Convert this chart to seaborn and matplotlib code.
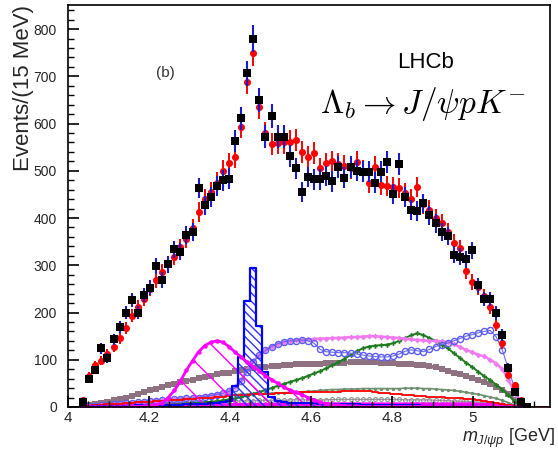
import numpy as np
import pandas as pd
import matplotlib
matplotlib.use("Agg")
import matplotlib.pyplot as plt
from matplotlib.ticker import MultipleLocator, FixedLocator, FixedFormatter
import seaborn as sns

# ---------------- data ----------------
bin_width = 0.015
first_center = 4.0375
n_bins = 74
mass = [round(first_center + bin_width * i, 4) for i in range(n_bins)]

data = [10, 59, 78, 124, 104, 143, 170, 200, 226, 200,
        237, 252, 299, 269, 302, 334, 329, 364, 371, 463,
        427, 444, 468, 480, 483, 563, 611, 706, 780, 650,
        572, 616, 572, 572, 531, 505, 455, 487, 482, 482,
        489, 478, 508, 485, 508, 500, 498, 498, 475, 498,
        519, 451, 514, 444, 417, 415, 431, 406, 389, 371,
        362, 322, 318, 313, 332, 258, 229, 229, 199, 152,
        83, 32, 11, 0]

fit = [14, 66, 88, 98, 112, 128, 146, 168, 193, 212,
       228, 250, 268, 285, 302, 318, 338, 356, 378, 413,
       440, 455, 475, 500, 516, 530, 593, 688, 749, 635,
       580, 557, 559, 560, 562, 565, 540, 529, 538, 505,
       516, 520, 515, 510, 505, 519, 500, 474, 508, 470,
       468, 465, 463, 453, 440, 466, 430, 417, 400, 389,
       371, 347, 336, 288, 265, 254, 235, 212, 174, 135,
       68, 47, 15, 2]

pc4450 = [1, 1, 2, 2, 2, 3, 3, 3, 3, 4,
          4, 4, 4, 5, 5, 5, 5, 6, 6, 7,
          7, 8, 9, 10, 12, 44, 106, 224, 294, 171,
          75, 22, 12, 10, 9, 9, 8, 8, 8, 7,
          7, 7, 6, 6, 6, 6, 5, 5, 5, 5,
          5, 4, 4, 4, 4, 4, 3, 3, 3, 3,
          3, 3, 2, 2, 2, 2, 2, 1, 1, 1,
          1, 1, 0, 0]

pc4380 = [0, 0, 0, 0, 0, 0, 0, 0, 1, 1,
          2, 3, 5, 9, 20, 35, 55, 78, 98, 117,
          130, 137, 140, 137, 128, 116, 106, 95, 85, 76,
          66, 58, 50, 42, 36, 31, 26, 20, 15, 10,
          7, 5, 4, 3, 2, 2, 1, 1, 1, 1,
          1, 1, 1, 1, 1, 1, 1, 1, 1, 1,
          1, 1, 1, 1, 1, 1, 1, 1, 0, 0,
          0, 0, 0, 0]

magenta_low = [2, 2, 2, 3, 3, 3, 3, 3, 3, 3,
               3, 3, 3, 3, 3, 3, 3, 3, 4, 4,
               4, 4, 4, 4, 4, 5, 5, 5, 5, 5,
               5, 5, 6, 6, 6, 6, 6, 6, 6, 6,
               6, 6, 6, 6, 6, 6, 6, 6, 6, 6,
               6, 6, 6, 6, 6, 6, 6, 6, 6, 6,
               6, 6, 6, 6, 6, 5, 5, 5, 4, 3,
               2, 1, 0, 0]

mauve = [3, 5, 7, 9, 11, 14, 17, 20, 23, 27,
         31, 35, 39, 43, 46, 49, 52, 55, 58, 61,
         64, 66, 69, 71, 73, 76, 78, 80, 82, 84,
         85, 86, 87, 88, 89, 90, 90, 91, 92, 92,
         93, 93, 94, 94, 95, 95, 95, 95, 95, 94,
         94, 93, 92, 91, 90, 89, 88, 86, 84, 81,
         77, 73, 69, 65, 61, 57, 53, 49, 43, 37,
         28, 15, 4, 0]

blue_circles = [1, 2, 3, 4, 5, 6, 7, 8, 9, 10,
                11, 12, 13, 14, 15, 16, 17, 18, 19, 20,
                22, 24, 26, 29, 33, 40, 55, 75, 95, 110,
                120, 128, 134, 138, 140, 140, 142, 140, 135, 122,
                117, 116, 115, 115, 114, 112, 110, 108, 107, 106,
                106, 108, 112, 118, 121, 119, 117, 122, 128, 132,
                135, 140, 145, 150, 153, 157, 160, 162, 148, 120,
                80, 40, 8, 0]

violet = [1, 2, 3, 4, 5, 6, 7, 8, 9, 10,
          11, 12, 13, 14, 15, 16, 17, 18, 19, 21,
          23, 25, 27, 30, 34, 42, 58, 78, 98, 110,
          120, 128, 133, 137, 140, 141, 142, 143, 144, 145,
          145, 146, 146, 147, 148, 148, 149, 150, 150, 149,
          148, 147, 146, 145, 143, 142, 141, 140, 140, 139,
          137, 133, 127, 121, 116, 111, 107, 100, 92, 80,
          58, 30, 8, 0]

green = [1, 1, 2, 2, 2, 3, 3, 3, 4, 4,
         4, 5, 5, 5, 6, 6, 7, 7, 8, 9,
         10, 11, 12, 14, 16, 18, 21, 24, 28, 32,
         36, 40, 45, 49, 53, 57, 61, 66, 71, 76,
         82, 88, 95, 102, 110, 118, 124, 128, 130, 131,
         132, 135, 140, 146, 152, 156, 152, 146, 140, 132,
         124, 114, 104, 94, 85, 75, 65, 57, 47, 37,
         25, 12, 3, 0]

greygreen = [1, 2, 3, 4, 5, 6, 7, 8, 9, 10,
             11, 12, 14, 15, 16, 17, 18, 19, 20, 21,
             22, 23, 24, 25, 26, 26, 27, 27, 28, 28,
             29, 29, 30, 30, 31, 31, 32, 33, 34, 35,
             36, 37, 37, 38, 38, 38, 39, 39, 39, 39,
             39, 39, 39, 40, 40, 40, 39, 39, 38, 37,
             36, 35, 33, 31, 29, 27, 24, 21, 18, 14,
             9, 4, 1, 0]

grey = [1, 2, 3, 3, 4, 4, 5, 5, 6, 6,
        7, 7, 8, 8, 9, 9, 10, 10, 10, 11,
        11, 11, 12, 12, 12, 13, 13, 13, 13, 14,
        14, 14, 14, 14, 15, 15, 15, 15, 15, 15,
        15, 16, 16, 16, 16, 16, 16, 16, 16, 16,
        16, 16, 16, 15, 15, 15, 15, 15, 14, 14,
        13, 13, 12, 12, 11, 10, 9, 8, 7, 6,
        4, 2, 1, 0]

red_hist = [2, 3, 4, 5, 6, 6, 7, 8, 9, 10,
            10, 11, 12, 13, 14, 15, 15, 16, 17, 18,
            19, 20, 21, 22, 24, 25, 26, 26, 27, 27,
            28, 28, 29, 29, 30, 30, 31, 31, 31, 31,
            31, 32, 32, 33, 33, 34, 34, 33, 32, 30,
            29, 28, 27, 26, 25, 24, 23, 22, 22, 21,
            20, 19, 18, 17, 16, 14, 12, 10, 8, 6,
            4, 2, 1, 0]

x_ticks = [4.0, 4.2, 4.4, 4.6, 4.8, 5.0]
x_tick_labels = ["4", "4.2", "4.4", "4.6", "4.8", "5"]
y_ticks = [0, 100, 200, 300, 400, 500, 600, 700, 800]

df = pd.DataFrame({"m": mass, "data": data, "fit": fit,
                   "pc4450": pc4450, "red_hist": red_hist})

# ---------------- style ----------------
sns.set_theme(style="ticks")
plt.rcParams["font.family"] = ["Liberation Sans", "DejaVu Sans"]
plt.rcParams["mathtext.fontset"] = "custom"
plt.rcParams["mathtext.it"] = "Liberation Sans:italic"
plt.rcParams["mathtext.rm"] = "Liberation Sans"
plt.rcParams["hatch.linewidth"] = 1.0

fig = plt.figure(figsize=(5.58, 4.59), dpi=100)
ax = fig.add_axes([68 / 558, 52 / 459, 482 / 558, 402 / 459])

edges = [round(4.0 + bin_width * k, 4) for k in range(80)]
data_edges = edges[2:2 + n_bins + 1]

# broad components
sns.lineplot(x=mass, y=greygreen, ax=ax, color="#6f8f6f", lw=1.2, marker="o",
             markersize=2.4, mec="#6f8f6f", markeredgewidth=0, zorder=2)
sns.lineplot(x=mass, y=grey, ax=ax, color="#9a9a9a", lw=1.0, marker="o",
             markersize=2.8, mfc="none", mec="#8a8a8a", markeredgewidth=0.7, zorder=2)
sns.lineplot(x=mass, y=mauve, ax=ax, color="#8f7282", lw=2.6, marker="s",
             markersize=3.8, mec="#8f7282", markeredgewidth=0, zorder=3)
sns.lineplot(x=mass, y=green, ax=ax, color="#1e7b1e", lw=1.4, marker="P",
             markersize=3.4, mec="#1e7b1e", markeredgewidth=0, zorder=3)
sns.lineplot(x=mass, y=violet, ax=ax, color="#f07af0", lw=1.8, marker="D",
             markersize=3.0, mec="#f07af0", markeredgewidth=0, zorder=3)
sns.lineplot(x=mass, y=blue_circles, ax=ax, color="#6a6af0", lw=0.8, marker="o",
             markersize=4.4, mfc="none", mec="#5c5cf0", markeredgewidth=1.0, zorder=3)
sns.lineplot(x=mass, y=magenta_low, ax=ax, color="#ff00ff", lw=2.6, zorder=3)

# red step histogram
sns.histplot(data=df, x="m", weights="red_hist", bins=edges, element="step",
             fill=False, color="red", lw=1.3, ax=ax, zorder=4)

# blue hatched histogram
ax.stairs(pc4450, data_edges, fill=True, facecolor="none",
          edgecolor="#3030ff", hatch="\\\\\\\\", linewidth=0, zorder=4)
sns.histplot(data=df, x="m", weights="pc4450", bins=data_edges, element="step",
             fill=False, color="#0000ff", lw=1.6, ax=ax, zorder=5)

# magenta hatched curve
ax.fill_between(mass, pc4380, 0, facecolor="none", edgecolor="#ff00ff",
                hatch="\\", linewidth=0, zorder=4)
sns.lineplot(x=mass, y=pc4380, ax=ax, color="#ff00ff", lw=2.0, marker="o",
             markersize=3.2, mec="#ff00ff", markeredgewidth=0, zorder=5)

# fit points (red) with error bars
ax.errorbar(df["m"], df["fit"], yerr=np.sqrt(df["fit"]), fmt="none",
            ecolor="red", elinewidth=1.4, zorder=6)
sns.scatterplot(data=df, x="m", y="fit", ax=ax, color="red", marker="o",
                s=26, linewidth=0, zorder=7)

# data points (black squares, blue error bars)
ax.errorbar(df["m"], df["data"], yerr=np.sqrt(df["data"]), fmt="none",
            ecolor="#1a1ad0", elinewidth=1.5, zorder=8)
sns.scatterplot(data=df, x="m", y="data", ax=ax, color="black", marker="s",
                s=38, linewidth=0, zorder=9)

# ---------------- axes ----------------
ax.set_xlim(4.0, 5.19)
ax.set_ylim(0, 851)
ax.xaxis.set_major_locator(FixedLocator(x_ticks))
ax.xaxis.set_major_formatter(FixedFormatter(x_tick_labels))
ax.xaxis.set_minor_locator(MultipleLocator(0.05))
ax.yaxis.set_major_locator(FixedLocator(y_ticks))
ax.yaxis.set_minor_locator(MultipleLocator(20))
ax.tick_params(axis="both", which="major", direction="in", length=8, width=1.2,
               color="black", top=False, right=False)
ax.tick_params(axis="both", which="minor", direction="in", length=4.5, width=1.0,
               color="black", top=False, right=False)
ax.tick_params(axis="x", labelsize=11, pad=3)
ax.tick_params(axis="y", labelsize=10, pad=8)
ax.xaxis.set_zorder(20)
ax.yaxis.set_zorder(20)
for sp in ax.spines.values():
    sp.set_visible(True)
    sp.set_linewidth(1.2)
    sp.set_color("black")
    sp.set_zorder(21)

ax.set_ylabel("Events/(15 MeV)", fontsize=16, loc="top")
ax.yaxis.set_label_coords(-0.07, 1.0)
ax.set_xlabel(r"$m_{J/\psi p}$ [GeV]", fontsize=13, loc="right")
ax.xaxis.set_label_coords(1.01, -0.05)

ax.text(0.201, 0.831, "(b)", transform=ax.transAxes, fontsize=11,
        color="#333333", ha="center", va="center")
ax.text(0.741, 0.856, "LHCb", transform=ax.transAxes, fontsize=16,
        color="black", ha="center", va="center")
ax.text(0.737, 0.754, r"$\Lambda_b \rightarrow J/\psi p K^{-}$",
        transform=ax.transAxes, fontsize=24, color="black", ha="center",
        va="center", math_fontfamily="cm")

fig.savefig("out.png", dpi=100)
